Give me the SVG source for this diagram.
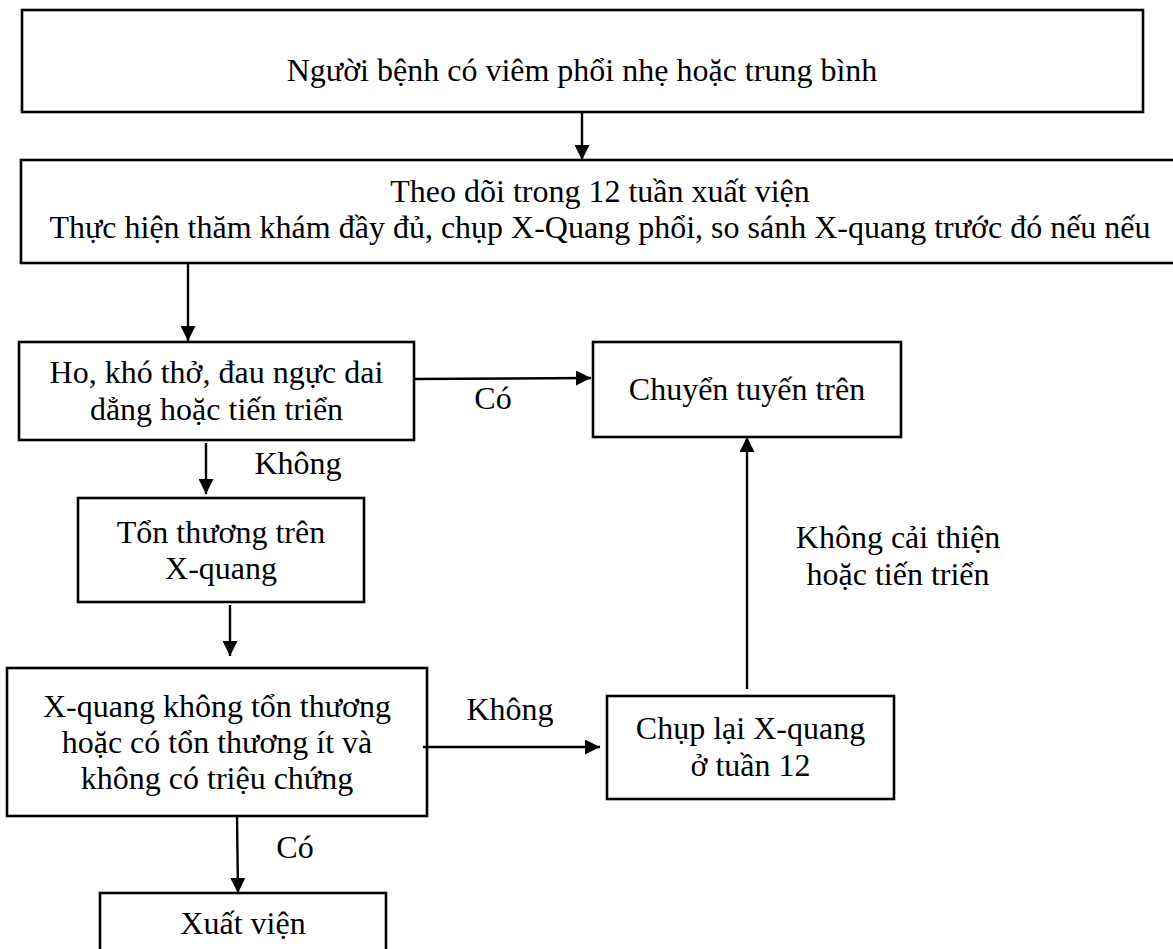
<svg xmlns="http://www.w3.org/2000/svg" width="1173" height="949" viewBox="0 0 1173 949">
  <style>
    .box { fill: #ffffff; stroke: #000000; stroke-width: 2.6; }
    .lbl { font-family: "Liberation Serif", "Times New Roman", serif; font-size: 32px; fill: #000000; text-anchor: middle; }
    .edge { stroke: #000000; stroke-width: 2.4; fill: none; marker-end: url(#arrow); }
  </style>
  <defs>
    <marker id="arrow" markerWidth="15" markerHeight="15" viewBox="0 0 15 15" refX="15" refY="7.5" orient="auto" markerUnits="userSpaceOnUse">
      <path d="M0,0 L15,7.5 L0,15 Z" fill="#000000"/>
    </marker>
  </defs>
  <rect width="1173" height="949" fill="#ffffff"/>

  <g id="n-start">
    <rect class="box" x="22" y="10" width="1121" height="102"/>
    <text class="lbl" x="582" y="81">Người bệnh có viêm phổi nhẹ hoặc trung bình</text>
  </g>

  <!-- wide follow-up box runs past the right edge of the page -->
  <g id="n-follow">
    <rect class="box" x="21" y="160" width="1165" height="103"/>
    <text class="lbl" x="600" y="202">Theo dõi trong 12 tuần xuất viện</text>
    <text class="lbl" x="600" y="238">Thực hiện thăm khám đầy đủ, chụp X-Quang phổi, so sánh X-quang trước đó nếu nếu</text>
  </g>

  <g id="n-symptoms">
    <rect class="box" x="19" y="342" width="395" height="98"/>
    <text class="lbl" x="216.5" y="383">Ho, khó thở, đau ngực dai</text>
    <text class="lbl" x="216.5" y="420">dẳng hoặc tiến triển</text>
  </g>

  <g id="n-refer">
    <rect class="box" x="593" y="342" width="308" height="95"/>
    <text class="lbl" x="747" y="400">Chuyển tuyến trên</text>
  </g>

  <g id="n-lesion">
    <rect class="box" x="78" y="498" width="286" height="104"/>
    <text class="lbl" x="221" y="543">Tổn thương trên</text>
    <text class="lbl" x="221" y="579">X-quang</text>
  </g>

  <g id="n-xray-ok">
    <rect class="box" x="7" y="668" width="420" height="148"/>
    <text class="lbl" x="217" y="717">X-quang không tổn thương</text>
    <text class="lbl" x="217" y="753">hoặc có tổn thương ít và</text>
    <text class="lbl" x="217" y="789">không có triệu chứng</text>
  </g>

  <g id="n-repeat">
    <rect class="box" x="607" y="696" width="287" height="103"/>
    <text class="lbl" x="750.5" y="739">Chụp lại X-quang</text>
    <text class="lbl" x="750.5" y="776">ở tuần 12</text>
  </g>

  <g id="n-discharge">
    <rect class="box" x="100" y="893" width="286" height="70"/>
    <text class="lbl" x="243" y="934">Xuất viện</text>
  </g>

  <g id="connectors">
    <line class="edge" x1="582" y1="112" x2="582" y2="160"/>
    <line class="edge" x1="188" y1="263" x2="188" y2="341"/>
    <line class="edge" x1="413" y1="379" x2="591" y2="378"/>
    <line class="edge" x1="206" y1="443" x2="206" y2="494"/>
    <line class="edge" x1="230" y1="605" x2="230" y2="656"/>
    <line class="edge" x1="423" y1="747" x2="600" y2="747"/>
    <line class="edge" x1="747" y1="689" x2="747" y2="437"/>
    <line class="edge" x1="237" y1="816" x2="238" y2="893"/>
  </g>

  <g id="edge-labels">
    <text class="lbl" x="493" y="409">Có</text>
    <text class="lbl" x="298" y="474">Không</text>
    <text class="lbl" x="510" y="720">Không</text>
    <text class="lbl" x="898" y="548">Không cải thiện</text>
    <text class="lbl" x="898" y="585">hoặc tiến triển</text>
    <text class="lbl" x="295" y="858">Có</text>
  </g>
</svg>
